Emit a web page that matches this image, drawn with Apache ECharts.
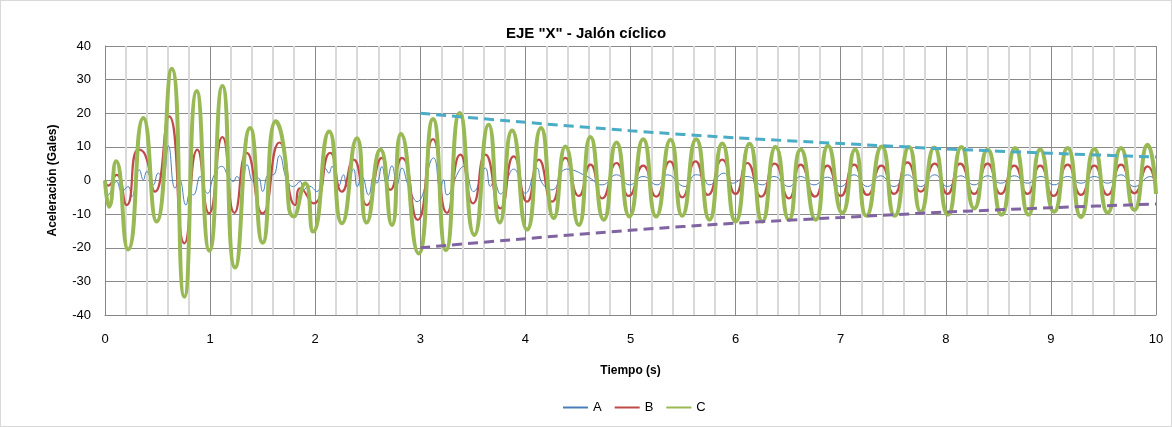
<!DOCTYPE html>
<html>
<head>
<meta charset="utf-8">
<title>EJE "X" - Jalón cíclico</title>
<script src="https://cdn.jsdelivr.net/npm/echarts@6/dist/echarts.min.js"></script>
<style>
    html, body { margin: 0; padding: 0; background: #fff; }
    #main { width: 1170px; height: 425px; border: 1px solid #d9d9d9; }
</style>
</head>
<body>
<div id="main"></div>
<script>
    /* puntos: [tiempo (s), aceleracion (Gales)] */
    var serieA = [
        [0, 0], [0.03, -4.3], [0.11, -0.3], [0.16, -3.3], [0.22, -1.8], [0.254, -4.8], [0.327, 3.2], [0.365, 0.2],
        [0.397, 2.7], [0.46, -1.3], [0.508, 2.2], [0.55, 0.7], [0.603, 10.3], [0.667, -2.3], [0.708, 0.2], [0.771, -7.3],
        [0.81, -3.8], [0.84, -4.3], [0.905, 1.2], [0.937, -1.8], [0.975, -3.8], [1.04, 1.7], [1.11, 4.2], [1.175, 1.2],
        [1.222, -0.3], [1.254, 1.2], [1.30, -0.8], [1.35, 4.7], [1.413, -0.3], [1.46, 0.7], [1.50, -3.3], [1.556, 1.7],
        [1.60, 1.7], [1.66, 7.4], [1.73, 0.2], [1.794, -1.8], [1.857, -0.3], [1.89, -2.8], [1.94, -1.6], [2.016, -3.3],
        [2.095, 3.7], [2.13, 2.2], [2.16, 4.2], [2.22, -1.8], [2.27, 1.7], [2.30, -1.8], [2.365, 3.4], [2.40, -1.8],
        [2.444, 1.2], [2.508, -4.3], [2.556, 1.2], [2.587, -0.8], [2.635, 4.2], [2.676, -0.8], [2.73, 4.4], [2.778, -1.3],
        [2.825, 3.7], [2.889, -1.8], [2.97, -6.3], [3.127, 6.7], [3.19, -2.3], [3.22, 0.2], [3.254, -4.3], [3.365, 2.7],
        [3.413, 4.2], [3.508, -3.3], [3.619, 3.7], [3.667, -1.8], [3.70, -0.3], [3.762, -4], [3.889, 3.4], [4.0, -3.8],
        [4.11, 3.7], [4.16, -0.8], [4.254, -2.8], [4.39, 3.4], [4.587, 1.2], [4.73, -1.3], [4.867, 1.7], [4.99, -1.3],
        [5.12, 1.2], [5.254, -1.3], [5.35, 1.7], [5.52, -1.8], [5.619, 1.7], [5.683, 1.2], [5.75, -1.3], [5.889, 2.2],
        [5.97, -0.8], [6.11, 1.2], [6.254, -1.3], [6.365, 1.2], [6.508, -1.8], [6.619, 1.2], [6.746, -1.3], [6.873, 1],
        [7.0, -1.8], [7.127, 1.7], [7.254, -1.8], [7.381, 1.4], [7.508, -1.8], [7.635, 1.7], [7.762, -1.8], [7.895, 1.7],
        [8.016, -1.8], [8.143, 1.4], [8.27, -1.3], [8.397, 1.4], [8.524, -0.8], [8.651, 1.4], [8.778, -0.8], [8.905, 1.2],
        [9.03, -1.3], [9.159, 1.2], [9.286, -0.8], [9.413, 1.2], [9.54, -0.8], [9.667, 1.7], [9.794, -1.8], [9.95, 1.2],
        [10, -0.3]
    ];
    var serieB = [
        [0, 0], [0.03, -1.5], [0.11, 1.7], [0.206, -7.3], [0.317, 9.2], [0.381, 7.7], [0.476, -3.3], [0.61, 19.1],
        [0.756, -18.7], [0.879, 9.2], [0.99, -9.8], [1.117, 12.9], [1.232, -9.6], [1.349, 8.2], [1.498, -9.8], [1.66, 11.3],
        [1.81, -7.3], [1.857, -2.3], [1.984, -6.8], [2.143, 8.2], [2.254, -3.3], [2.365, 6.2], [2.492, -7.3], [2.635, 6.7],
        [2.714, -2.8], [2.825, 6.7], [2.975, -11.7], [3.121, 12.3], [3.254, -9.6], [3.381, 7.7], [3.502, -6.8], [3.619, 7.7],
        [3.762, -8.3], [3.889, 7.2], [4.016, -6.3], [4.127, 6.2], [4.254, -6.3], [4.381, 6.7], [4.508, -4.6], [4.619, 4.7],
        [4.73, -5.3], [4.867, 5.2], [4.984, -4.6], [5.121, 4.4], [5.244, -4.8], [5.375, 5.7], [5.492, -5], [5.619, 5.7],
        [5.737, -4.3], [5.873, 6.2], [6.0, -4], [6.111, 5.2], [6.244, -4.8], [6.371, 5], [6.508, -5.3], [6.619, 4.7],
        [6.756, -4.8], [6.873, 4.4], [7.0, -4.6], [7.127, 4.7], [7.254, -4.3], [7.387, 4.4], [7.508, -4], [7.635, 5.4],
        [7.762, -3.3], [7.895, 5], [8.016, -4], [8.137, 5], [8.27, -4], [8.397, 5], [8.524, -4], [8.651, 4.4],
        [8.778, -4], [8.898, 4.4], [9.025, -4.6], [9.159, 4.7], [9.286, -4.3], [9.413, 4.4], [9.54, -4.3], [9.667, 4.7],
        [9.794, -3.8], [9.92, 4.2], [10, -3.8]
    ];
    var serieC = [
        [0, 0], [0.04, -7.8], [0.105, 5.7], [0.22, -20.5], [0.365, 18.6], [0.49, -12.2], [0.635, 33.2], [0.755, -34.6],
        [0.873, 26.6], [0.994, -20.9], [1.117, 28.1], [1.238, -25.9], [1.381, 15.6], [1.50, -18.5], [1.625, 17.6], [1.683, 13.1],
        [1.80, -10.7], [1.905, -0.8], [1.98, -15.2], [2.133, 14.6], [2.254, -12.7], [2.397, 12.6], [2.49, -12.5], [2.62, 9.2],
        [2.73, -13.2], [2.816, 13.8], [2.984, -21.7], [3.121, 18.3], [3.244, -20.7], [3.375, 20.1], [3.514, -16.2], [3.65, 16.6],
        [3.756, -12.5], [3.873, 14.9], [4.016, -14.6], [4.149, 15.6], [4.27, -11.2], [4.381, 10.1], [4.508, -13.2], [4.619, 12.9],
        [4.746, -11.7], [4.867, 11.3], [4.99, -10.7], [5.121, 12.3], [5.244, -10.7], [5.381, 12.1], [5.492, -10.5], [5.625, 12.3],
        [5.752, -11.7], [5.873, 11], [6.0, -12.2], [6.133, 10.9], [6.254, -12.2], [6.381, 10], [6.508, -11.7], [6.619, 9.2],
        [6.762, -11.7], [6.879, 10.3], [7.016, -9.6], [7.137, 9.2], [7.244, -10.5], [7.39, 10.1], [7.514, -10.5], [7.65, 10],
        [7.762, -9.3], [7.89, 9.8], [8.02, -10.2], [8.149, 10], [8.27, -8.3], [8.397, 9.2], [8.53, -10.2], [8.66, 9.7],
        [8.787, -10.2], [8.898, 9.2], [9.03, -9.3], [9.159, 9.7], [9.286, -10.9], [9.413, 9.4], [9.54, -9.6], [9.667, 9.7],
        [9.794, -8.8], [9.92, 10.6], [10, -4]
    ];
    /* envolventes punteadas */
    var envSup = [[3, 20], [4, 17.3], [5, 14.8], [6, 12.7], [7, 11], [8, 9.4], [9, 8.1], [10, 7]];
    var envInf = [[3, -20], [4, -17.3], [5, -14.8], [6, -12.7], [7, -11], [8, -9.4], [9, -8.1], [10, -7]];

    var fuente = "'Liberation Sans Narrow', 'Liberation Sans', sans-serif";

    var myChart = echarts.init(document.getElementById('main'));
    var option = {
        animation: false,
        textStyle: { fontFamily: fuente },
        title: {
            text: 'EJE "X" - Jalón cíclico',
            left: 'center',
            top: 20,
            textStyle: { fontSize: 15, fontWeight: 'bold', color: '#000', fontFamily: fuente }
        },
        grid: { left: 104, right: 15, top: 45, bottom: 111, containLabel: false },
        legend: {
            top: 395,
            left: 556,
            itemWidth: 25,
            itemHeight: 14,
            itemGap: 12,
            data: ['A', 'B', 'C'],
            itemStyle: { opacity: 0 },
            textStyle: { fontSize: 13, color: '#000', fontFamily: fuente }
        },
        xAxis: {
            type: 'value',
            min: 0,
            max: 10,
            interval: 1,
            name: 'Tiempo (s)',
            nameLocation: 'middle',
            nameGap: 50,
            nameTextStyle: { fontSize: 12, fontWeight: 'bold', color: '#000' },
            axisLine: { onZero: false, lineStyle: { color: '#868686' } },
            axisTick: { show: false },
            axisLabel: { margin: 18, fontSize: 13, color: '#000' },
            splitLine: { show: true, lineStyle: { color: '#8a8a8a', width: 1 } },
            minorTick: { show: false, splitNumber: 5 },
            minorSplitLine: { show: true, lineStyle: { color: '#d9d9d9', width: 2 } }
        },
        yAxis: {
            type: 'value',
            min: -40,
            max: 40,
            interval: 10,
            name: 'Aceleración (Gales)',
            nameLocation: 'middle',
            nameGap: 46,
            nameTextStyle: { fontSize: 12, fontWeight: 'bold', color: '#000' },
            axisLine: { show: true, lineStyle: { color: '#868686' } },
            axisTick: { show: false },
            axisLabel: { margin: 14, fontSize: 13, color: '#000' },
            splitLine: { show: true, lineStyle: { color: '#8a8a8a', width: 1 } }
        },
        series: [
            {
                name: 'A', type: 'line', data: serieA, symbol: 'none', smooth: 0.5,
                lineStyle: { color: '#4a7ebb', width: 1 }, itemStyle: { color: '#4a7ebb' }, z: 2
            },
            {
                name: 'B', type: 'line', data: serieB, symbol: 'none', smooth: 0.6,
                lineStyle: { color: '#be4b48', width: 2.2 }, itemStyle: { color: '#be4b48' }, z: 3
            },
            {
                name: 'C', type: 'line', data: serieC, symbol: 'none', smooth: 0.6,
                lineStyle: { color: '#98b954', width: 4 }, itemStyle: { color: '#98b954' }, z: 4
            },
            {
                name: 'envSup', type: 'line', data: envSup, symbol: 'none', smooth: 0.3,
                lineStyle: { color: '#4bacc6', width: 3, type: [10, 6] }, z: 5
            },
            {
                name: 'envInf', type: 'line', data: envInf, symbol: 'none', smooth: 0.3,
                lineStyle: { color: '#8064a2', width: 3, type: [10, 6] }, z: 5
            }
        ]
    };
    myChart.setOption(option);
</script>
</body>
</html>
